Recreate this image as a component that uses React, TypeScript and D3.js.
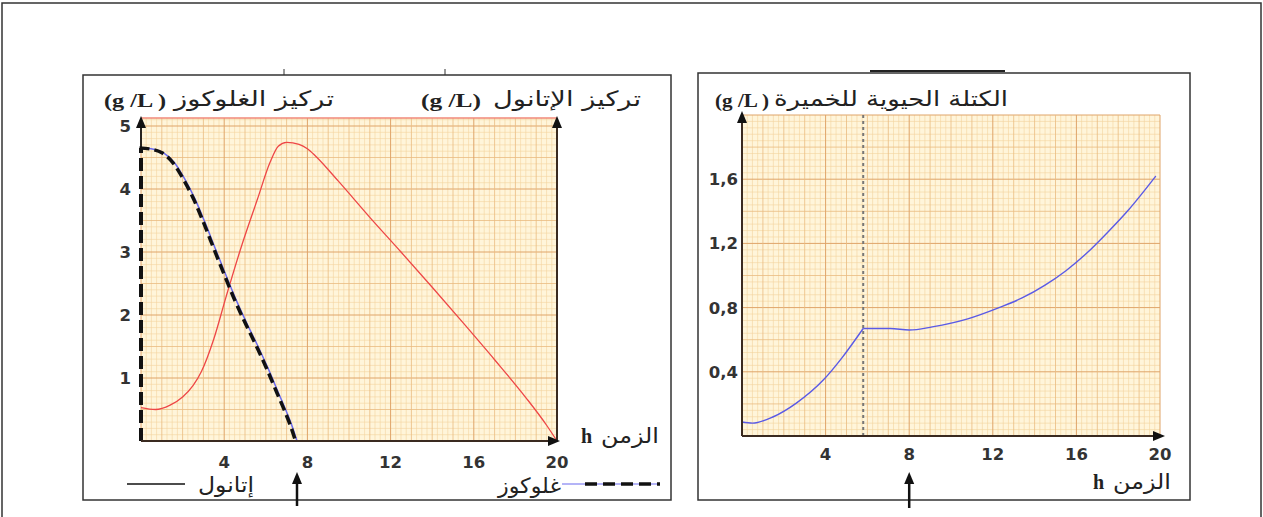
import React from "react";
import * as d3 from "d3";

// Ethanol and glucose concentration (g/L) against time (h), left chart
const ethanolHours = [0, 0.7, 1.4, 2.0, 2.5, 2.9, 3.5, 4.1, 4.8, 5.6, 6.2, 6.6, 7.0, 7.6, 8.0, 8.4, 9.5, 11.0, 12.5, 14.0, 15.5, 17.0, 18.5, 19.5, 20];
const ethanolConc = [0.53, 0.5, 0.57, 0.7, 0.88, 1.1, 1.62, 2.3, 3.06, 3.84, 4.42, 4.68, 4.74, 4.71, 4.64, 4.52, 4.12, 3.55, 3.0, 2.44, 1.87, 1.29, 0.69, 0.25, 0];

const glucoseHours = [0, 0.6, 1.1, 1.6, 2.1, 2.6, 3.1, 3.6, 4.1, 4.6, 5.1, 5.6, 6.1, 6.6, 7.0, 7.25, 7.5];
const glucoseConc = [4.65, 4.63, 4.57, 4.42, 4.16, 3.84, 3.45, 3.03, 2.62, 2.22, 1.86, 1.52, 1.16, 0.77, 0.46, 0.25, 0];

// Yeast biomass (g/L), right chart
const biomassHours = [0, 0.5, 1.5, 2.6, 3.9, 4.8, 5.8, 7.1, 8.0, 9.1, 10.8, 12.3, 13.4, 14.5, 15.5, 16.5, 17.5, 18.5, 19.8];
const biomassConc = [0.087, 0.08, 0.12, 0.205, 0.35, 0.49, 0.67, 0.67, 0.66, 0.68, 0.73, 0.8, 0.86, 0.94, 1.03, 1.14, 1.27, 1.41, 1.62];
const shiftHour = 5.8;

const hourTicks = [4, 8, 12, 16, 20];
const leftTicks = [1, 2, 3, 4, 5];
const rightTicks = [0.4, 0.8, 1.2, 1.6];
const rightTickLabels = ["0,4", "0,8", "1,2", "1,6"];

const W = 1263;
const H = 517;

const tickFont = "DejaVu Sans, Verdana, sans-serif";
const arFont = "DejaVu Sans, sans-serif";
const unitFont = "Liberation Serif, Times New Roman, serif";

type Lin = d3.ScaleLinear<number, number>;

// millimetre paper background
function Paper({ x, y, xMax, yMax, xMinor, xMid, xMajor, yMinor, yMid, yMajor }: {
  x: Lin; y: Lin; xMax: number; yMax: number;
  xMinor: number; xMid: number; xMajor: number;
  yMinor: number; yMid: number; yMajor: number;
}) {
  const nx = Math.round(xMax / xMinor);
  const ny = Math.floor(yMax / yMinor + 1e-6);
  const col = (i: number, mid: number, major: number) =>
    i % major === 0 ? "#dfa468" : i % mid === 0 ? "#eabb80" : "#f3d39e";
  const wid = (i: number, mid: number, major: number) =>
    i % major === 0 ? 1 : i % mid === 0 ? 0.8 : 0.6;
  const xm = Math.round(xMid / xMinor), xM = Math.round(xMajor / xMinor);
  const ym = Math.round(yMid / yMinor), yM = Math.round(yMajor / yMinor);
  const vs = d3.range(0, nx + 1);
  const hs = d3.range(0, ny + 1);
  return (
    <g>
      <rect x={x(0)} y={y(yMax)} width={x(xMax) - x(0)} height={y(0) - y(yMax)} fill="#fff5da" />
      {hs.filter((i) => i % ym !== 0).map((i) => (
        <line key={"h" + i} x1={x(0)} x2={x(xMax)} y1={y(i * yMinor)} y2={y(i * yMinor)} stroke={col(i, ym, yM)} strokeWidth={wid(i, ym, yM)} />
      ))}
      {vs.filter((i) => i % xm !== 0).map((i) => (
        <line key={"v" + i} y1={y(0)} y2={y(yMax)} x1={x(i * xMinor)} x2={x(i * xMinor)} stroke={col(i, xm, xM)} strokeWidth={wid(i, xm, xM)} />
      ))}
      {hs.filter((i) => i % ym === 0).map((i) => (
        <line key={"H" + i} x1={x(0)} x2={x(xMax)} y1={y(i * yMinor)} y2={y(i * yMinor)} stroke={col(i, ym, yM)} strokeWidth={wid(i, ym, yM)} />
      ))}
      {vs.filter((i) => i % xm === 0).map((i) => (
        <line key={"V" + i} y1={y(0)} y2={y(yMax)} x1={x(i * xMinor)} x2={x(i * xMinor)} stroke={col(i, xm, xM)} strokeWidth={wid(i, xm, xM)} />
      ))}
    </g>
  );
}

const arrowUp = (x: number, y: number) => `M${x},${y} L${x - 5},${y + 12} L${x + 5},${y + 12} Z`;
const arrowRight = (x: number, y: number) => `M${x},${y} L${x - 12},${y - 5} L${x - 12},${y + 5} Z`;

// Arabic label squeezed to the width it has in the figure
function Ar({ right, y, width, children }: { right: number; y: number; width: number; children: string }) {
  return (
    <text x={right - width} y={y} textLength={width} lengthAdjust="spacingAndGlyphs" fontFamily={arFont} fontSize={21} fill="#222">
      {children}
    </text>
  );
}

export default function App() {
  // left chart scales
  const xL = d3.scaleLinear().domain([0, 20]).range([141, 557]);
  const yL = d3.scaleLinear().domain([0, 5]).range([441, 126]);
  const leftTop = yL.invert(118);

  // right chart scales
  const xR = d3.scaleLinear().domain([0, 20]).range([742, 1160]);
  const yR = d3.scaleLinear().domain([0, 2]).range([436, 115]);

  const ethanolPath = d3.line<number>()
    .x((_, i) => xL(ethanolHours[i]))
    .y((d) => yL(d))
    .curve(d3.curveMonotoneX)(ethanolConc) as string;
  const glucosePath = d3.line<number>()
    .x((_, i) => xL(glucoseHours[i]))
    .y((d) => yL(d))
    .curve(d3.curveMonotoneX)(glucoseConc) as string;

  const bio = biomassHours.map((h, i) => [h, biomassConc[i]] as [number, number]);
  const bioLine = d3.line<[number, number]>()
    .x((d) => xR(d[0]))
    .y((d) => yR(d[1]))
    .curve(d3.curveMonotoneX);
  const bioGrowth = bioLine(bio.filter((d) => d[0] <= shiftHour)) as string;
  const bioLater = bioLine(bio.filter((d) => d[0] >= shiftHour)) as string;

  const tickStyle = { fontFamily: tickFont, fontWeight: "bold" as const, fontSize: 16.5, fill: "#333" };

  return (
    <svg width={W} height={H} style={{ position: "absolute", left: 0, top: 0, background: "#fff" }}>
      {/* page frame */}
      <path d={`M2,${H} L2,3 L1261,3 L1261,${H}`} fill="none" stroke="#333" strokeWidth={1.5} />

      {/* panels */}
      <rect x={83} y={75} width={588} height={425} fill="none" stroke="#333" strokeWidth={1.5} />
      <line x1={284} x2={284} y1={69} y2={75} stroke="#333" strokeWidth={1} />
      <line x1={445} x2={445} y1={69} y2={75} stroke="#333" strokeWidth={1} />
      <rect x={698} y={73} width={492} height={427} fill="none" stroke="#333" strokeWidth={1.5} />
      <line x1={870} x2={1005} y1={71} y2={71} stroke="#222" strokeWidth={2} />

      {/* ---------- left chart ---------- */}
      <Paper x={xL} y={yL} xMax={20} yMax={leftTop} xMinor={0.25} xMid={1} xMajor={4} yMinor={0.1} yMid={0.5} yMajor={1} />
      <line x1={xL(0)} x2={xL(20)} y1={yL(leftTop)} y2={yL(leftTop)} stroke="#f08878" strokeWidth={1.5} />

      <path d={ethanolPath} fill="none" stroke="#ee4646" strokeWidth={1.3} />
      <path d={glucosePath} fill="none" stroke="#6a6af0" strokeWidth={1.5} />
      <path d={glucosePath} transform="translate(-1.5,0)" fill="none" stroke="#111" strokeWidth={3.5} strokeDasharray="10 5" />
      <line x1={xL(0)} x2={xL(0)} y1={yL(0)} y2={yL(glucoseConc[0])} stroke="#111" strokeWidth={4} strokeDasharray="13 5" />

      {/* axes */}
      <line x1={xL(0)} x2={xL(0)} y1={yL(glucoseConc[0])} y2={yL(leftTop) + 4} stroke="#111" strokeWidth={1.8} />
      <path d={arrowUp(xL(0), yL(leftTop) - 2)} fill="#111" />
      <line x1={xL(20)} x2={xL(20)} y1={yL(0)} y2={yL(leftTop) + 4} stroke="#3a2a20" strokeWidth={2} />
      <path d={arrowUp(xL(20), yL(leftTop) - 2)} fill="#111" />
      <line x1={xL(0)} x2={xL(20)} y1={yL(0)} y2={yL(0)} stroke="#3a2a20" strokeWidth={2} />
      <path d={arrowRight(xL(20) + 3, yL(0))} fill="#111" />

      {leftTicks.map((t) => (
        <text key={t} x={131} y={yL(t) + 6} textAnchor="end" {...tickStyle}>{t}</text>
      ))}
      {hourTicks.map((t) => (
        <text key={t} x={xL(t)} y={468} textAnchor="middle" {...tickStyle}>{t}</text>
      ))}

      {/* titles */}
      <text x={104} y={107} textLength={62} lengthAdjust="spacingAndGlyphs" fontFamily={unitFont} fontWeight="bold" fontSize={19} fill="#222">(g /L )</text>
      <Ar right={334} y={106} width={160}>تركيز الغلوكوز</Ar>
      <text x={421} y={107} textLength={60} lengthAdjust="spacingAndGlyphs" fontFamily={unitFont} fontWeight="bold" fontSize={19} fill="#222">(g /L)</text>
      <Ar right={641} y={106} width={148}>تركيز الإتانول</Ar>
      <text x={581} y={443} fontFamily={unitFont} fontWeight="bold" fontSize={20} fill="#222">h</text>
      <Ar right={659} y={443} width={58}>الزمن</Ar>

      {/* legend */}
      <line x1={127} x2={185} y1={484} y2={484} stroke="#111" strokeWidth={1.5} />
      <Ar right={254} y={492} width={56}>إتانول</Ar>
      <Ar right={561} y={493} width={63}>غلوكوز</Ar>
      <line x1={562} x2={660} y1={484} y2={484} stroke="#6a6af0" strokeWidth={1.2} />
      <line x1={585} x2={660} y1={484} y2={484} stroke="#111" strokeWidth={3.5} strokeDasharray="12 6" />

      {/* ---------- right chart ---------- */}
      <Paper x={xR} y={yR} xMax={20} yMax={2} xMinor={0.25} xMid={1} xMajor={4} yMinor={0.04} yMid={0.2} yMajor={0.4} />
      <line x1={xR(shiftHour)} x2={xR(shiftHour)} y1={yR(0)} y2={yR(2)} stroke="#777" strokeWidth={2} strokeDasharray="3 3" />
      <path d={bioGrowth} fill="none" stroke="#5a5ae6" strokeWidth={1.4} />
      <path d={bioLater} fill="none" stroke="#5a5ae6" strokeWidth={1.4} />

      <line x1={xR(0)} x2={xR(0)} y1={yR(0)} y2={yR(2) + 4} stroke="#3a2a20" strokeWidth={2} />
      <path d={arrowUp(xR(0), yR(2) - 4)} fill="#111" />
      <line x1={xR(0)} x2={xR(20)} y1={yR(0)} y2={yR(0)} stroke="#3a2a20" strokeWidth={2} />
      <path d={arrowRight(xR(20) + 5, yR(0))} fill="#111" />

      {rightTicks.map((t, i) => (
        <text key={t} x={738} y={yR(t) + 6} textAnchor="end" {...tickStyle}>{rightTickLabels[i]}</text>
      ))}
      {hourTicks.map((t) => (
        <text key={t} x={xR(t)} y={460} textAnchor="middle" {...tickStyle}>{t}</text>
      ))}

      <text x={715} y={107} textLength={54} lengthAdjust="spacingAndGlyphs" fontFamily={unitFont} fontWeight="bold" fontSize={19} fill="#222">(g /L )</text>
      <Ar right={1008} y={106} width={234}>الكتلة الحيوية للخميرة</Ar>
      <text x={1093} y={489} fontFamily={unitFont} fontWeight="bold" fontSize={20} fill="#222">h</text>
      <Ar right={1171} y={489} width={58}>الزمن</Ar>

      {/* arrows under 8 h */}
      <line x1={xL(7.5)} x2={xL(7.5)} y1={506} y2={480} stroke="#111" strokeWidth={2.5} />
      <path d={arrowUp(xL(7.5), 472)} fill="#111" />
      <line x1={xR(8)} x2={xR(8)} y1={508} y2={480} stroke="#111" strokeWidth={2.5} />
      <path d={arrowUp(xR(8), 472)} fill="#111" />
    </svg>
  );
}
